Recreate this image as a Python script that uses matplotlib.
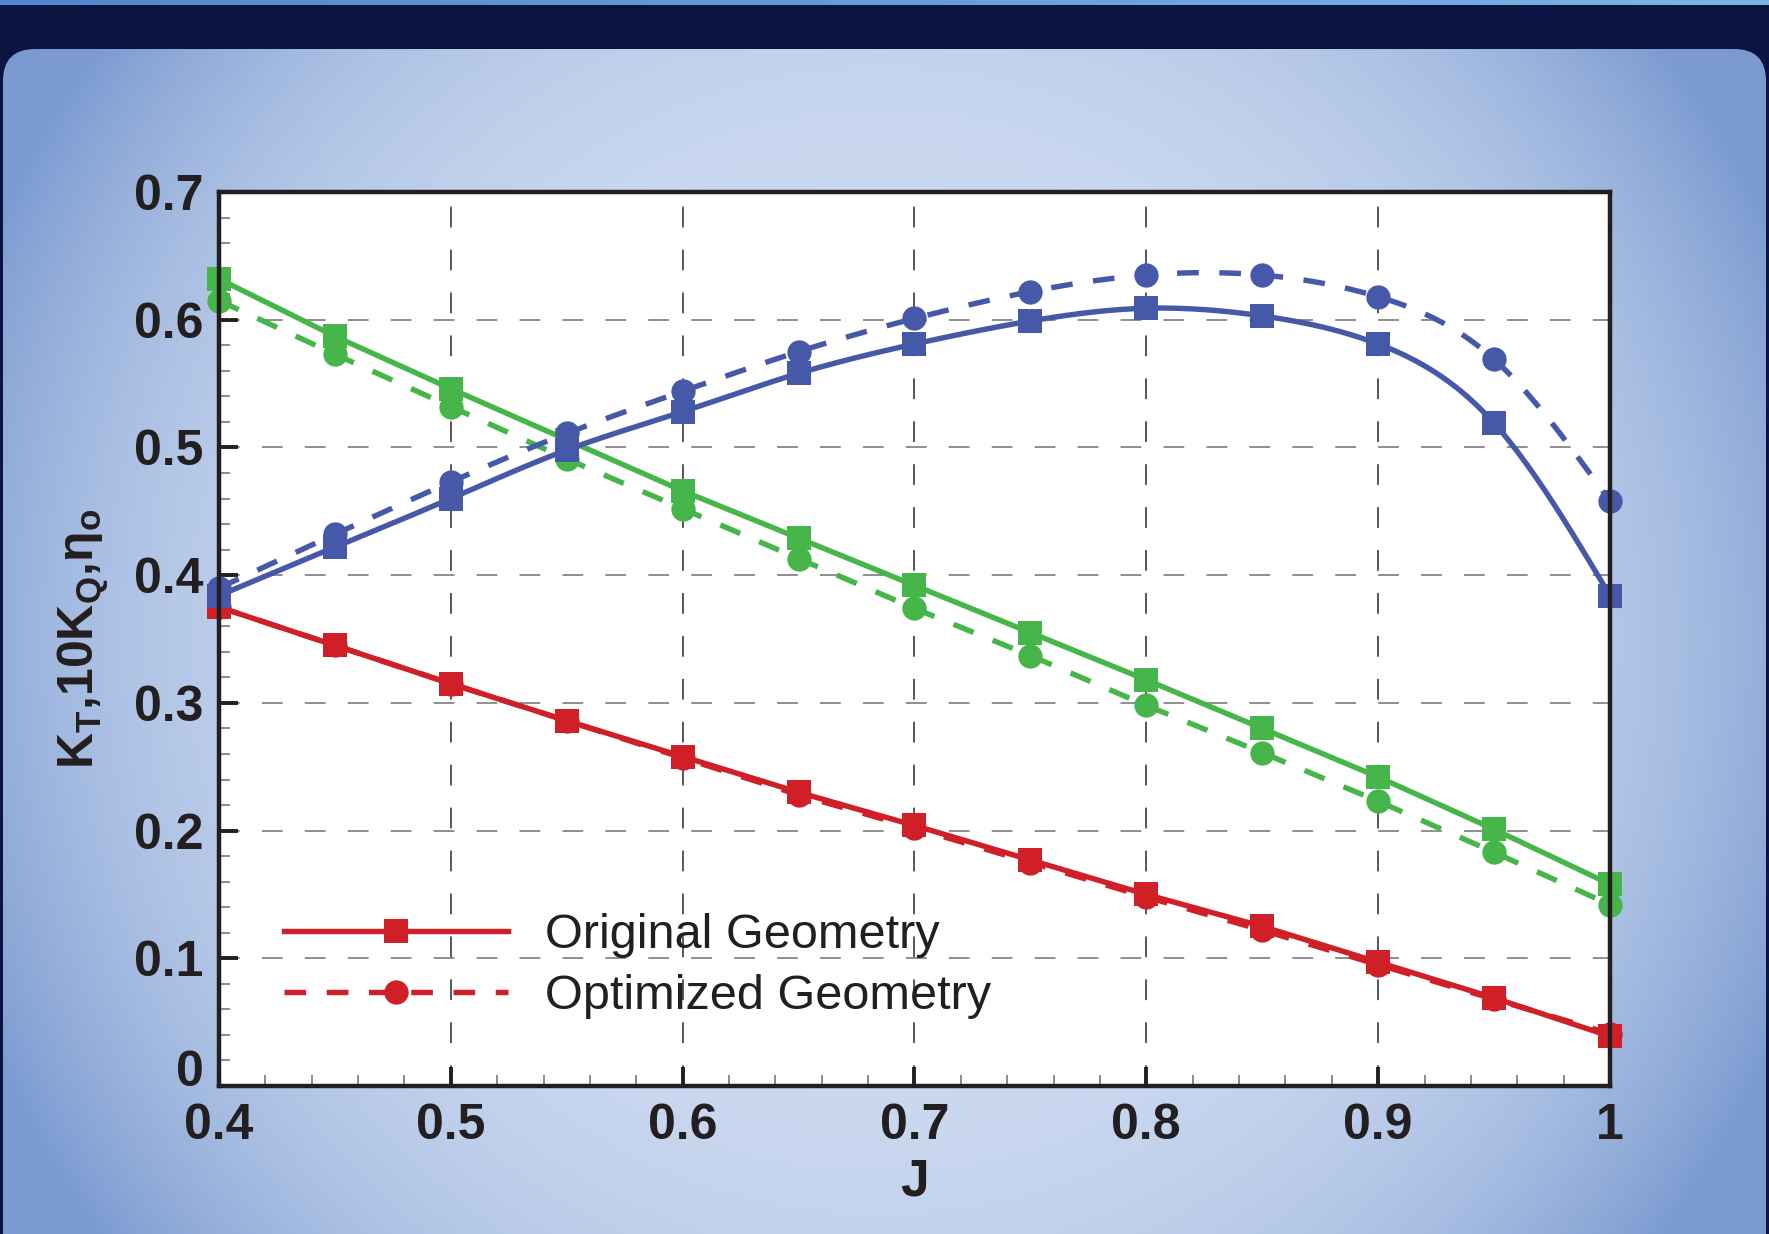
import numpy as np
import matplotlib
matplotlib.use("Agg")
import matplotlib.pyplot as plt
from matplotlib.patches import FancyBboxPatch
from matplotlib.ticker import MultipleLocator, FuncFormatter

plt.rcParams['font.family'] = ['Liberation Sans', 'DejaVu Sans']
plt.rcParams['mathtext.fontset'] = 'custom'
plt.rcParams['mathtext.rm'] = 'Liberation Sans:bold'
plt.rcParams['mathtext.it'] = 'Liberation Sans:bold'
plt.rcParams['mathtext.bf'] = 'Liberation Sans:bold'

# advance coefficient
J = [0.40, 0.45, 0.50, 0.55, 0.60, 0.65, 0.70, 0.75, 0.80, 0.85, 0.90, 0.95, 1.00]

# red curves
red_orig = [0.375, 0.345, 0.315, 0.286, 0.258, 0.230, 0.204, 0.177, 0.150, 0.125, 0.097, 0.069, 0.039]
red_opt = [0.375, 0.345, 0.315, 0.286, 0.257, 0.228, 0.202, 0.175, 0.148, 0.122, 0.095, 0.068, 0.041]

# green curves
green_orig = [0.632, 0.587, 0.546, 0.506, 0.466, 0.429, 0.392, 0.355, 0.318, 0.280, 0.242, 0.201, 0.158]
green_opt = [0.615, 0.573, 0.532, 0.491, 0.452, 0.413, 0.374, 0.337, 0.298, 0.261, 0.223, 0.183, 0.142]

# blue curves
blue_orig = [0.384, 0.422, 0.460, 0.498, 0.528, 0.558, 0.581, 0.599, 0.609, 0.603, 0.581, 0.519, 0.384]
blue_opt = [0.390, 0.432, 0.473, 0.511, 0.544, 0.575, 0.601, 0.622, 0.635, 0.635, 0.618, 0.569, 0.458]

x_ticks = [0.4, 0.5, 0.6, 0.7, 0.8, 0.9, 1.0]
y_ticks = [0, 0.1, 0.2, 0.3, 0.4, 0.5, 0.6, 0.7]

RED = '#d01f26'
GREEN = '#46b54a'
BLUE = '#4659a8'
INK = '#231f20'


def smooth(x, y, n=300):
    # natural cubic spline, only for drawing the curved line
    x = np.asarray(x, float)
    y = np.asarray(y, float)
    h = np.diff(x)
    k = len(x)
    A = np.zeros((k, k))
    b = np.zeros(k)
    A[0, 0] = A[-1, -1] = 1
    for i in range(1, k - 1):
        A[i, i - 1] = h[i - 1]
        A[i, i] = 2 * (h[i - 1] + h[i])
        A[i, i + 1] = h[i]
        b[i] = 6 * ((y[i + 1] - y[i]) / h[i] - (y[i] - y[i - 1]) / h[i - 1])
    M = np.linalg.solve(A, b)
    xs = np.linspace(x[0], x[-1], n)
    idx = np.clip(np.searchsorted(x, xs) - 1, 0, k - 2)
    x0, x1 = x[idx], x[idx + 1]
    hh = x1 - x0
    t0, t1 = x1 - xs, xs - x0
    ys = (M[idx] * t0 ** 3 + M[idx + 1] * t1 ** 3) / (6 * hh) \
        + (y[idx] / hh - M[idx] * hh / 6) * t0 + (y[idx + 1] / hh - M[idx + 1] * hh / 6) * t1
    return xs, ys


fig = plt.figure(figsize=(17.69, 12.34), dpi=100)
fig.patch.set_facecolor('#0b1340')

# slide-style background
bg = fig.add_axes([0, 0, 1, 1])
bg.set_xlim(0, 1769)
bg.set_ylim(1234, 0)
bg.axis('off')
strip = np.linspace(0, 1, 400)
strip_rgb = np.array([0.33, 0.52, 0.80]) * (1 - strip[:, None]) + np.array([0.50, 0.70, 0.90]) * strip[:, None]
bg.imshow(strip_rgb[None, :, :], extent=(0, 1769, 5, 0), aspect='auto')
yy, xx = np.mgrid[49:1234:4, 3:1766:4]
d = np.sqrt(((xx - 880) / 980.0) ** 2 + ((yy - 640) / 1000.0) ** 2)
t = np.clip(d, 0, 1) ** 3.6
c0 = np.array([208, 221, 242]) / 255.0
c1 = np.array([122, 154, 208]) / 255.0
img = c0 * (1 - t[..., None]) + c1 * t[..., None]
im = bg.imshow(img, extent=(3, 1766, 1234, 49), aspect='auto', interpolation='bilinear')
panel = FancyBboxPatch((3, 49), 1763, 1400, boxstyle='round,pad=0,rounding_size=32',
                       transform=bg.transData, facecolor='none', edgecolor='none')
bg.add_patch(panel)
im.set_clip_path(panel)

ax = fig.add_axes([0.1238, 0.1199, 0.7863, 0.7245])
ax.set_facecolor('white')

lw = 3.9
dash = (0, (4.0, 3.8))
ms = 17.5

l1, = ax.plot(J, red_orig, color=RED, lw=lw, marker='s', ms=ms, mew=0, clip_on=False, zorder=3)
l2, = ax.plot(J, red_opt, color=RED, lw=lw, ls=dash, marker='o', ms=ms, mew=0, clip_on=False, zorder=3)

ax.plot(J, green_orig, color=GREEN, lw=lw, marker='s', ms=ms, mew=0, clip_on=False, zorder=3)
ax.plot(J, green_opt, color=GREEN, lw=lw, ls=dash, marker='o', ms=ms, mew=0, clip_on=False, zorder=3)

xs, ys = smooth(J, blue_orig)
ax.plot(xs, ys, color=BLUE, lw=lw, clip_on=False, zorder=3)
ax.plot(J, blue_orig, color=BLUE, ls='none', marker='s', ms=ms, mew=0, clip_on=False, zorder=3)
xs, ys = smooth(J, blue_opt)
ax.plot(xs, ys, color=BLUE, lw=lw, ls=dash, clip_on=False, zorder=3)
ax.plot(J, blue_opt, color=BLUE, ls='none', marker='o', ms=ms, mew=0, clip_on=False, zorder=3)

ax.set_xlim(0.4, 1.0)
ax.set_ylim(0, 0.7)
ax.set_xticks(x_ticks)
ax.set_yticks(y_ticks)
ax.xaxis.set_minor_locator(MultipleLocator(0.02))
ax.yaxis.set_minor_locator(MultipleLocator(0.02))
fmt = FuncFormatter(lambda v, p: '%g' % round(v, 2))
ax.xaxis.set_major_formatter(fmt)
ax.yaxis.set_major_formatter(fmt)

ax.tick_params(which='major', direction='in', length=13.5, width=2.8, color=INK,
               labelsize=36, labelcolor=INK)
ax.tick_params(which='minor', direction='in', length=8, width=1.1, color='#6d6d6d')
ax.tick_params(axis='x', which='major', pad=12)
ax.tick_params(axis='y', which='major', pad=11)
for lab in ax.get_xticklabels() + ax.get_yticklabels():
    lab.set_fontweight('bold')
# the "0" label sits a little above the axis corner in the reference
ax.get_yticklabels()[0].set_verticalalignment('baseline')

ax.xaxis.grid(True, color='#2a2a2a', lw=1.1, ls=(0, (13.6, 14.5)))
ax.yaxis.grid(True, color='#707070', lw=1.1, ls=(0, (13.6, 14.5)))
ax.set_axisbelow('line')

for s in ax.spines.values():
    s.set_linewidth(3.2)
    s.set_color(INK)
    s.set_zorder(4)

ax.set_xlabel('J', fontsize=37, fontweight='bold', color=INK, labelpad=6)
ax.set_ylabel(r'$\mathrm{K_T{,}10K_Q{,}η_o}$', fontsize=36, color=INK)
ax.yaxis.set_label_coords(-0.078, 0.5)

ax.legend([l1, l2], ['Original Geometry', 'Optimized Geometry'], loc='upper left',
          bbox_to_anchor=(0.0467, 0.194), frameon=False, fontsize=35, handlelength=4.6,
          handletextpad=0.78, labelspacing=0.33, borderpad=0, borderaxespad=0,
          numpoints=1, labelcolor=INK)

fig.savefig('out.png', dpi=100, facecolor=fig.get_facecolor())
